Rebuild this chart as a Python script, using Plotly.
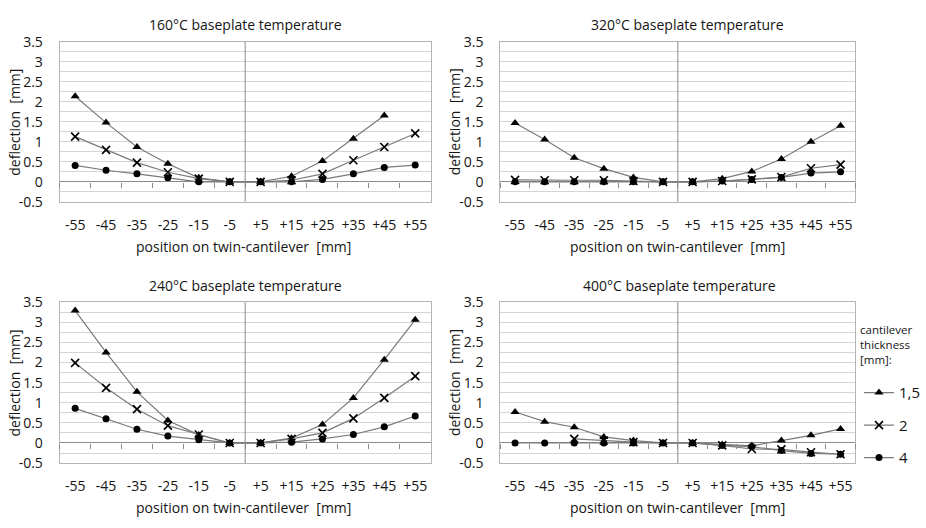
import plotly.graph_objects as go

# Measurement positions along the twin cantilever [mm]
positions = ["-55", "-45", "-35", "-25", "-15", "-5", "+5", "+15", "+25", "+35", "+45", "+55"]

# Deflection [mm] per cantilever thickness, one set per baseplate temperature
d160_t15 = [2.14, 1.48, 0.87, 0.45, 0.10, 0.0, 0.0, 0.14, 0.52, 1.08, 1.66, None]
d160_t2 = [1.13, 0.80, 0.48, 0.24, 0.08, 0.0, 0.0, 0.04, 0.20, 0.54, 0.87, 1.21]
d160_t4 = [0.41, 0.29, 0.20, 0.10, 0.0, 0.0, 0.0, 0.0, 0.06, 0.20, 0.36, 0.42]

d320_t15 = [1.47, 1.06, 0.60, 0.33, 0.11, 0.0, 0.0, 0.08, 0.26, 0.57, 1.00, 1.40]
d320_t2 = [0.05, 0.04, 0.04, 0.04, 0.02, 0.0, 0.0, 0.02, 0.06, 0.12, 0.34, 0.43]
d320_t4 = [0.0, 0.0, 0.0, 0.0, 0.0, 0.0, 0.0, 0.02, 0.06, 0.11, 0.22, 0.25]

d240_t15 = [3.29, 2.25, 1.27, 0.56, 0.20, 0.0, 0.0, 0.12, 0.46, 1.12, 2.07, 3.06]
d240_t2 = [1.99, 1.37, 0.84, 0.43, 0.21, 0.0, 0.0, 0.10, 0.25, 0.61, 1.12, 1.66]
d240_t4 = [0.86, 0.60, 0.34, 0.17, 0.08, 0.0, 0.0, 0.02, 0.10, 0.21, 0.40, 0.67]

d400_t15 = [0.77, 0.53, 0.39, 0.15, 0.06, 0.0, 0.0, -0.04, -0.07, 0.06, 0.19, 0.35]
d400_t2 = [None, None, 0.10, 0.06, 0.02, 0.0, 0.0, -0.06, -0.15, -0.16, -0.23, -0.28]
d400_t4 = [0.0, 0.0, 0.0, 0.0, 0.0, 0.0, 0.0, -0.06, -0.09, -0.19, -0.26, -0.28]

thickness_labels = ["1,5", "2", "4"]
panel_titles = ["160°C baseplate temperature", "320°C baseplate temperature",
                "240°C baseplate temperature", "400°C baseplate temperature"]

y_tick_vals = [-0.5, 0, 0.5, 1, 1.5, 2, 2.5, 3, 3.5]
y_tick_text = ["-0.5", "0", "0.5", "1", "1.5", "2", "2.5", "3", "3.5"]

panels = [
    [d160_t15, d160_t2, d160_t4],
    [d320_t15, d320_t2, d320_t4],
    [d240_t15, d240_t2, d240_t4],
    [d400_t15, d400_t2, d400_t4],
]

W, H = 926, 528
Y_MIN, Y_MAX = -0.5, 3.5

# plot-area boxes in pixels: (left, right, top, bottom)
boxes = [
    (60, 433, 33, 199),
    (503, 860, 33, 199),
    (60, 433, 303, 470),
    (503, 860, 303, 470),
]

TEXT = "#141414"
FONT = "Open Sans"
LINE = "#7a7a7a"
GRID = "#d4d4d4"
BORDER = "#b5b5b5"
AXIS = "#8a8a8a"

markers = [
    dict(symbol="triangle-up", size=8, color="black"),
    dict(symbol="x-thin", size=8, color="black", line=dict(width=1.6, color="black")),
    dict(symbol="circle", size=7, color="black"),
]

fig = go.Figure()
layout = {}

for i, series in enumerate(panels):
    n = i + 1
    left, right, top, bottom = boxes[i]
    xd = [left / W, right / W]
    yd = [1 - bottom / H, 1 - top / H]
    xa = "x" if n == 1 else f"x{n}"
    ya = "y" if n == 1 else f"y{n}"

    for k, vals in enumerate(series):
        fig.add_trace(go.Scatter(
            x=positions, y=vals, xaxis=xa, yaxis=ya,
            mode="lines+markers", name=thickness_labels[k],
            legendgroup=thickness_labels[k], showlegend=(i == 0),
            line=dict(color=LINE, width=1.2),
            marker=markers[k], connectgaps=False,
        ))

    layout[f"xaxis{'' if n == 1 else n}"] = dict(
        domain=xd, anchor=ya, type="category", categoryarray=positions,
        categoryorder="array", range=[-0.5, len(positions) - 0.5],
        showgrid=False, zeroline=False, showline=True, mirror=True,
        linecolor=BORDER, linewidth=1,
        ticks="outside", ticklen=10, tickcolor="rgba(0,0,0,0)",
        tickfont=dict(family=FONT, size=14, color=TEXT),
    )
    layout[f"yaxis{'' if n == 1 else n}"] = dict(
        domain=yd, anchor=xa, range=[Y_MIN, Y_MAX],
        tickmode="array", tickvals=y_tick_vals, ticktext=y_tick_text,
        showgrid=True, gridcolor=GRID, gridwidth=1,
        minor=dict(dtick=0.25, tick0=0, showgrid=True, gridcolor=GRID, gridwidth=1),
        zeroline=True, zerolinecolor=AXIS, zerolinewidth=1,
        showline=True, mirror=True, linecolor=BORDER, linewidth=1,
        ticks="outside", ticklen=13, tickcolor="rgba(0,0,0,0)",
        tickfont=dict(family=FONT, size=14, color=TEXT),
    )

    # horizontal axis crossing at zero, with tick marks between categories
    m = n + 4
    zero_pos = yd[0] + (0 - Y_MIN) / (Y_MAX - Y_MIN) * (yd[1] - yd[0])
    layout[f"xaxis{m}"] = dict(
        overlaying=xa, anchor="free", position=zero_pos, side="bottom",
        type="category", categoryarray=positions, categoryorder="array",
        range=[-0.5, len(positions) - 0.5], tickson="boundaries",
        ticks="outside", ticklen=5, tickwidth=1, tickcolor=AXIS,
        showticklabels=False, showgrid=False, showline=False, zeroline=False,
    )
    fig.add_trace(go.Scatter(
        x=positions, y=[None] * len(positions), xaxis=f"x{m}", yaxis=ya,
        mode="markers", showlegend=False, hoverinfo="skip",
    ))

    # divider between negative and positive positions
    fig.add_shape(type="line", xref=xa, yref=f"{ya} domain",
                  x0=(len(positions) - 1) / 2, x1=(len(positions) - 1) / 2, y0=0, y1=1,
                  line=dict(color=AXIS, width=1), layer="above")

annotations = []
title_pos = [(247, 15), (691, 15), (246.5, 286), (683.5, 286)]
xtitle_pos = [(245, 245), (681.5, 245), (245, 516), (681.5, 516)]
ytitle_pos = [(15, 116), (457, 116), (15, 386.5), (457, 386.5)]
for i in range(4):
    tx, ty = title_pos[i]
    annotations.append(dict(text=panel_titles[i], x=tx / W, y=1 - ty / H, xref="paper", yref="paper",
                            xanchor="center", yanchor="middle", showarrow=False,
                            font=dict(family=FONT, size=14, color=TEXT)))
    ax_, ay_ = xtitle_pos[i]
    annotations.append(dict(text="position on twin-cantilever  [mm]", x=ax_ / W, y=1 - ay_ / H,
                            xref="paper", yref="paper", xanchor="center", yanchor="middle",
                            showarrow=False, font=dict(family=FONT, size=14, color=TEXT)))
    yx, yy = ytitle_pos[i]
    annotations.append(dict(text="deflection  [mm]", x=yx / W, y=1 - yy / H, xref="paper", yref="paper",
                            xanchor="center", yanchor="middle", textangle=-90, showarrow=False,
                            font=dict(family=FONT, size=14, color=TEXT)))

annotations.append(dict(text="cantilever<br>thickness<br>[mm]:", x=863 / W, y=1 - 322 / H,
                        xref="paper", yref="paper", xanchor="left", yanchor="top", align="left",
                        showarrow=False, font=dict(family=FONT, size=11.5, color=TEXT)))

fig.update_layout(
    width=W, height=H, margin=dict(l=0, r=0, t=0, b=0),
    paper_bgcolor="white", plot_bgcolor="white",
    showlegend=True,
    legend=dict(x=864 / W, y=1 - 380 / H, xanchor="left", yanchor="top",
                font=dict(family=FONT, size=15, color=TEXT),
                tracegroupgap=10, itemwidth=30, bgcolor="rgba(0,0,0,0)"),
    annotations=annotations,
    **layout,
)

fig.write_html("out.html")
